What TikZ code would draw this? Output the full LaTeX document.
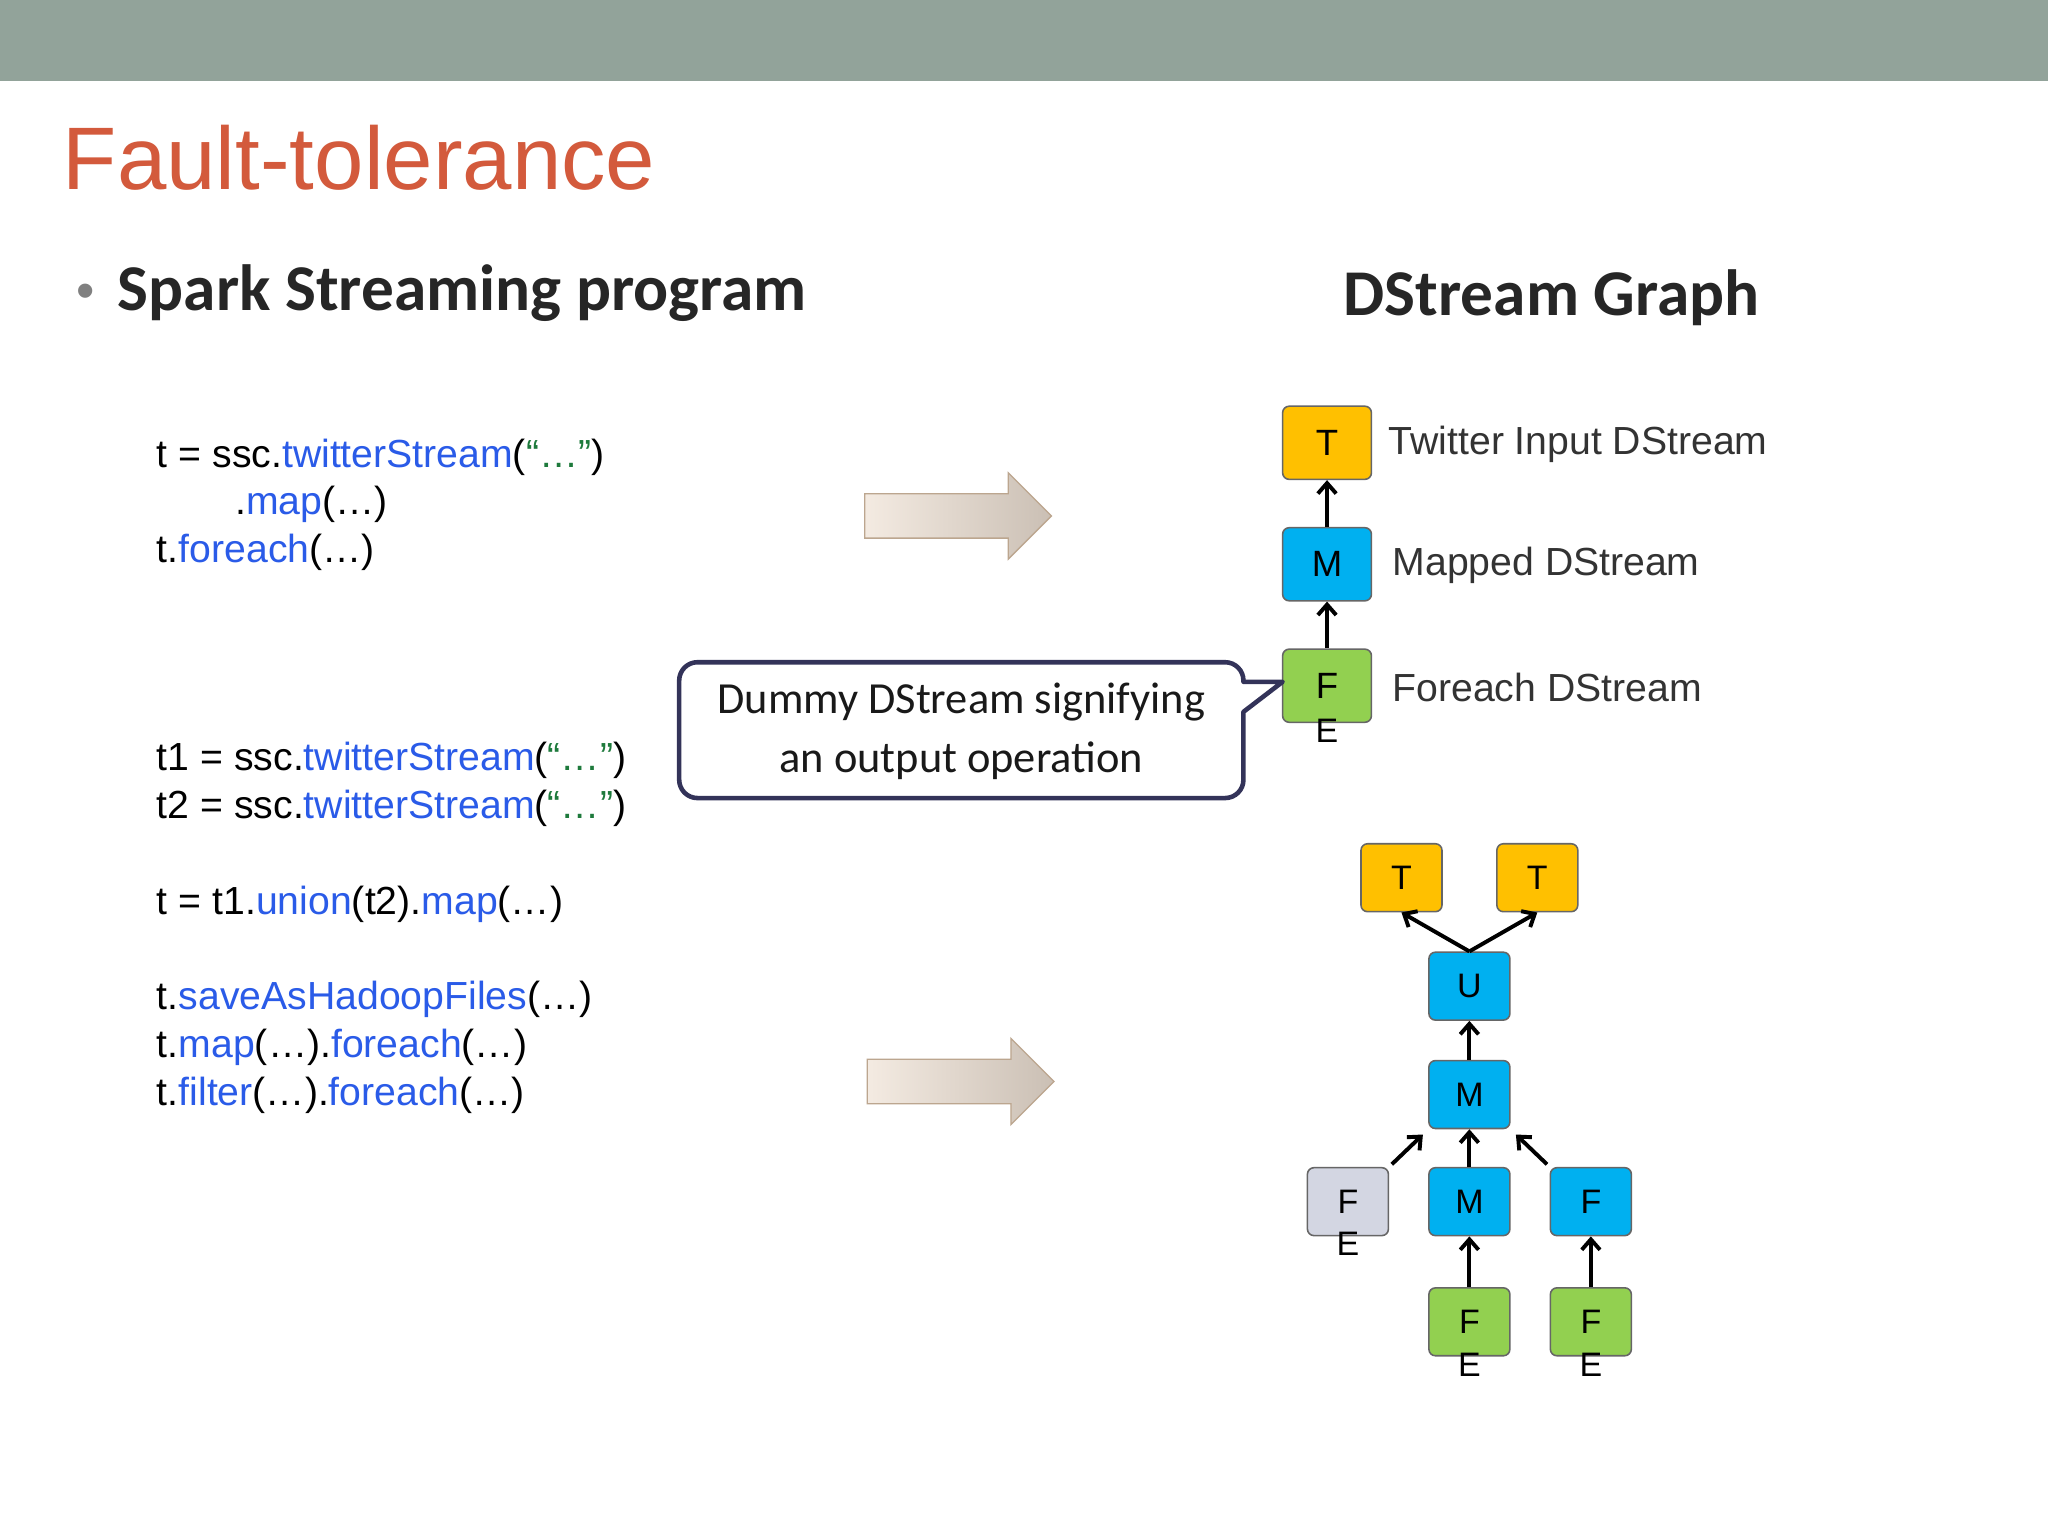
\documentclass[tikz,border=0pt]{standalone}
\usepackage{fontspec}
\setmainfont{Liberation Sans}
\newfontfamily\calfont{Carlito}
\usetikzlibrary{arrows.meta}
\definecolor{codeblue}{HTML}{2A5BE8}
\definecolor{codegreen}{HTML}{1E7A3C}
\definecolor{bar}{HTML}{92A39A}
\definecolor{titlered}{HTML}{D35A3C}
\definecolor{torange}{HTML}{FFC000}
\definecolor{mblue}{HTML}{00B0F0}
\definecolor{fgreen}{HTML}{92D050}
\definecolor{fgray}{HTML}{D3D6E2}
\definecolor{txt}{HTML}{333333}
\newcommand\kwb[1]{\textcolor{codeblue}{#1}}
\newcommand\kwg[1]{\textcolor{codegreen}{#1}}
\begin{document}
\begin{tikzpicture}[x=1pt,y=-1pt,
  box/.style={draw=black!60,line width=1.2pt,rounded corners=5pt,minimum width=68pt,minimum height=56pt,font=\fontsize{28}{30}\selectfont,inner sep=0pt},
  sbox/.style={box,minimum width=62pt,minimum height=52pt,font=\fontsize{26}{28}\selectfont},
  elab/.style={label={[anchor=center,yshift=-6pt,inner sep=0pt,font=\fontsize{26}{28}\selectfont]south:E}},
  ar/.style={line width=3pt,-{Straight Barb[length=8pt,width=14pt,line width=3pt]}},
  code/.style={anchor=base west,font=\fontsize{30}{36}\selectfont,inner sep=0pt},
  desc/.style={anchor=west,font=\fontsize{30}{36}\selectfont,text=txt,inner sep=0pt},
  blk/.style={left color=black!6!brown!15,right color=brown!35!gray!50,draw=brown!50!gray!70,line width=1pt}]
\useasboundingbox (0,0) rectangle (1568,1176);
\fill[white] (0,0) rectangle (1568,1176);
\fill[bar] (0,0) rectangle (1568,62);
\node[anchor=base west,inner sep=0pt,text=titlered,font=\fontsize{68}{70}\selectfont] (title) at (48,145) {Fault-tolerance};
\node[anchor=base west,inner sep=0pt,text=gray,font=\fontsize{40}{40}\selectfont] (bul) at (58,236) {•};
\node[anchor=base west,inner sep=0pt,text=black!85,font=\calfont\bfseries\fontsize{50}{50}\selectfont] (sub) at (90,238) {Spark Streaming program};
\node[inner sep=0pt,text=black!85,font=\calfont\bfseries\fontsize{50}{50}\selectfont] (dg) at (1188,228) {DStream Graph};
% code
\node[code] (c1) at (120,358) {t = ssc.\kwb{twitterStream}(\kwg{“…”})};
\node[code] (c2) at (180,394) {.\kwb{map}(…)};
\node[code] (c3) at (120,431) {t.\kwb{foreach}(…)};
\node[code] (c4) at (120,590) {t1 = ssc.\kwb{twitterStream}(\kwg{“…”})};
\node[code] (c5) at (120,627) {t2 = ssc.\kwb{twitterStream}(\kwg{“…”})};
\node[code] (c6) at (120,700) {t = t1.\kwb{union}(t2).\kwb{map}(…)};
\node[code] (c7) at (120,773) {t.\kwb{saveAsHadoopFiles}(…)};
\node[code] (c8) at (120,810) {t.\kwb{map}(…).\kwb{foreach}(…)};
\node[code] (c9) at (120,846) {t.\kwb{filter}(…).\kwb{foreach}(…)};
% block arrows
\shade[blk] (662,378)--(772,378)--(772,362)--(805,395)--(772,428)--(772,412)--(662,412)--cycle;
\shade[blk] (664,811)--(774,811)--(774,795)--(807,828)--(774,861)--(774,845)--(664,845)--cycle;
% graph 1
\node[box,fill=torange] (t) at (1016,339) {T};
\node[box,fill=mblue] (m) at (1016,432) {M};
\node[box,fill=fgreen,elab] (f) at (1016,525) {F};
\draw[ar] (m) -- (t);
\draw[ar] (f) -- (m);
\node[desc] (dt) at (1063,340) {Twitter Input DStream};
\node[desc] (dm) at (1066,433) {Mapped DStream};
\node[desc] (df) at (1066,526) {Foreach DStream};
% callout
\coordinate (tip) at (982,522);
\draw[line width=3.5pt,draw=black!75!blue!60!gray,fill=white,line join=round,rounded corners=14pt]
  (520,507) -- (952,507) [sharp corners]-- (952,522) -- (tip) -- (952,545) [rounded corners=14pt]-- (952,611) -- (520,611) -- cycle;
\node[align=center,font=\calfont\fontsize{34}{45}\selectfont,text=black!90] (cl) at (736,560) {Dummy DStream signifying\\an output operation};
% graph 2
\node[sbox,fill=torange] (t1) at (1073,672) {T};
\node[sbox,fill=torange] (t2) at (1177,672) {T};
\node[sbox,fill=mblue] (u) at (1125,755) {U};
\node[sbox,fill=mblue] (m1) at (1125,838) {M};
\node[sbox,fill=fgray,elab] (fe) at (1032,920) {F};
\node[sbox,fill=mblue] (m2) at (1125,920) {M};
\node[sbox,fill=mblue] (fb) at (1218,920) {F};
\node[sbox,fill=fgreen,elab] (g1) at (1125,1012) {F};
\node[sbox,fill=fgreen,elab] (g2) at (1218,1012) {F};
\draw[ar] (u.north) -- (t1.south);
\draw[ar] (u.north) -- (t2.south);
\draw[ar] (m1) -- (u);
\draw[ar] (m2) -- (m1);
\draw[ar] ([shift={(2,-2)}]fe.north east) -- ([shift={(-4,4)}]m1.south west);
\draw[ar] ([shift={(-2,-2)}]fb.north west) -- ([shift={(4,4)}]m1.south east);
\draw[ar] (g1) -- (m2);
\draw[ar] (g2) -- (fb);
\end{tikzpicture}
\end{document}
